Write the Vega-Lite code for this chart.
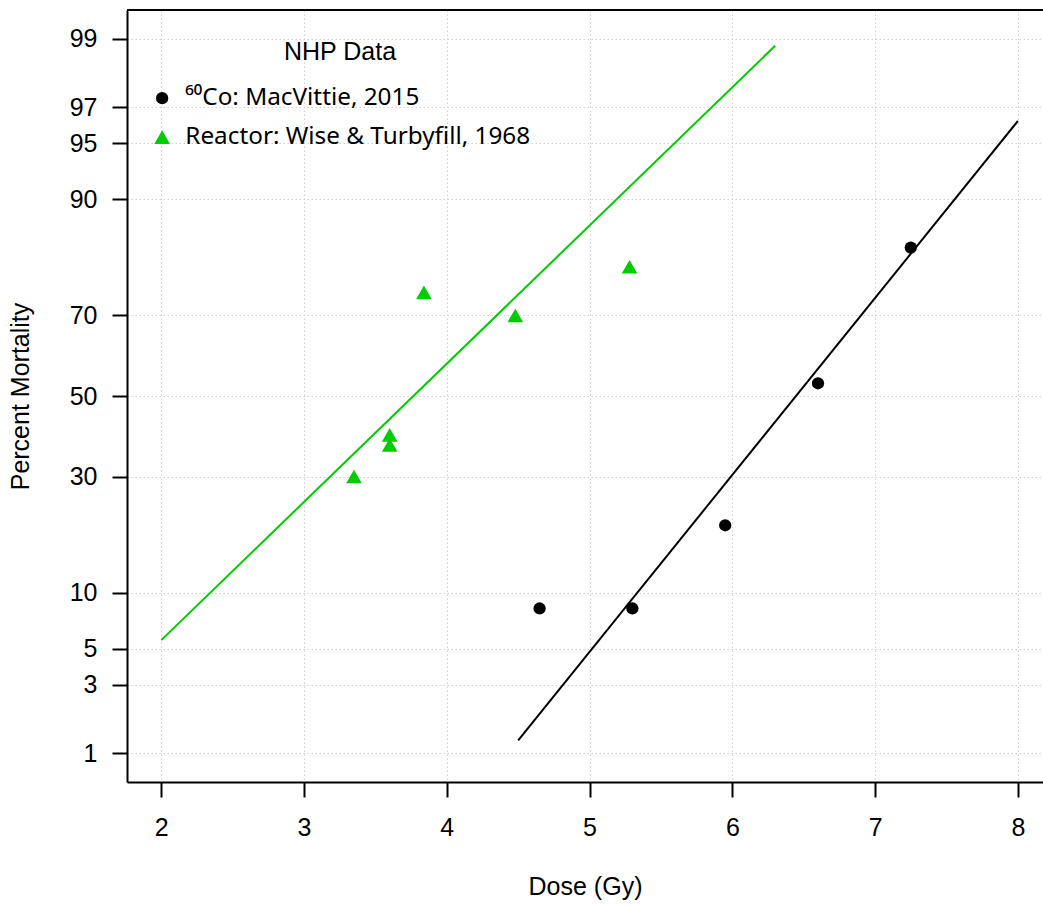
{
  "$schema": "https://vega.github.io/schema/vega-lite/v6.json",
  "width": 916,
  "height": 772,
  "autosize": {"type": "none"},
  "padding": {"left": 127, "top": 10, "right": 0, "bottom": 125},
  "config": {
    "view": {"stroke": null},
    "font": "Liberation Sans",
    "legend": {
      "orient": "none", "legendX": 23, "legendY": 30,
      "titleFont": "Liberation Sans", "titleFontSize": 25, "titleFontWeight": "normal", "titleColor": "black", "titleAnchor": "middle", "titlePadding": 21,
      "labelFont": "Noto Sans", "labelFontSize": 24.3, "labelColor": "black", "labelOffset": 11, "labelLimit": 0, "rowPadding": 14, "symbolStrokeWidth": 0, "padding": 0
    }
  },
  "datasets": {
    "points": [
      {"series": "⁶⁰Co: MacVittie, 2015", "dose": 4.65, "pct": 8.33},
      {"series": "⁶⁰Co: MacVittie, 2015", "dose": 5.3, "pct": 8.33},
      {"series": "⁶⁰Co: MacVittie, 2015", "dose": 5.95, "pct": 20},
      {"series": "⁶⁰Co: MacVittie, 2015", "dose": 6.6, "pct": 53.3},
      {"series": "⁶⁰Co: MacVittie, 2015", "dose": 7.25, "pct": 83.3},
      {"series": "Reactor: Wise & Turbyfill, 1968", "dose": 3.35, "pct": 30},
      {"series": "Reactor: Wise & Turbyfill, 1968", "dose": 3.6, "pct": 40},
      {"series": "Reactor: Wise & Turbyfill, 1968", "dose": 3.6, "pct": 37.5},
      {"series": "Reactor: Wise & Turbyfill, 1968", "dose": 3.84, "pct": 75},
      {"series": "Reactor: Wise & Turbyfill, 1968", "dose": 4.48, "pct": 70},
      {"series": "Reactor: Wise & Turbyfill, 1968", "dose": 5.28, "pct": 80}
    ],
    "fits": [
      {"series": "⁶⁰Co: MacVittie, 2015", "dose": 4.5, "pct": 1.25},
      {"series": "⁶⁰Co: MacVittie, 2015", "dose": 8.0, "pct": 96.33},
      {"series": "Reactor: Wise & Turbyfill, 1968", "dose": 2.0, "pct": 5.6},
      {"series": "Reactor: Wise & Turbyfill, 1968", "dose": 6.3, "pct": 98.87}
    ]
  },
  "layer": [
    {
      "data": {"values": [{}]},
      "mark": {"type": "rule", "color": "black", "strokeWidth": 2},
      "encoding": {
        "y": {"datum": 2.513, "type": "quantitative", "title": "Percent Mortality"}
      }
    },
    {
      "data": {"name": "fits"},
      "transform": [{"calculate": "quantileNormal(datum.pct / 100)", "as": "probit"}],
      "mark": {"type": "line", "strokeWidth": 2},
      "encoding": {
        "x": {"field": "dose", "type": "quantitative", "title": "Dose (Gy)"},
        "y": {"field": "probit", "type": "quantitative", "title": "Percent Mortality"},
        "stroke": {
          "field": "series", "type": "nominal", "title": "NHP Data",
          "scale": {"domain": ["⁶⁰Co: MacVittie, 2015", "Reactor: Wise & Turbyfill, 1968"], "range": ["black", "#00CD00"]}
        }
      }
    },
    {
      "data": {"name": "points"},
      "transform": [{"calculate": "quantileNormal(datum.pct / 100)", "as": "probit"}],
      "mark": {"type": "point", "filled": true, "opacity": 1},
      "encoding": {
        "x": {
          "field": "dose", "type": "quantitative", "title": "Dose (Gy)",
          "scale": {"domain": [1.76, 8.176], "nice": false, "zero": false},
          "axis": {
            "values": [2, 3, 4, 5, 6, 7, 8], "format": "d", "grid": true,
            "domainColor": "black", "domainWidth": 2, "tickColor": "black", "tickWidth": 2, "tickSize": 15,
            "labelFont": "Liberation Sans", "labelFontSize": 25, "labelColor": "black", "labelPadding": 18, "labelFlush": false,
            "titleFont": "Liberation Sans", "titleFontSize": 25, "titleFontWeight": "normal", "titleColor": "black", "titlePadding": 34,
            "gridColor": "#cfcfcf", "gridDash": [1.5, 2.5], "gridWidth": 1
          }
        },
        "y": {
          "field": "probit", "type": "quantitative", "title": "Percent Mortality",
          "scale": {"domain": [-2.513, 2.513], "nice": false, "zero": false},
          "axis": {
            "values": [-2.3263479, -1.8807936, -1.6448536, -1.2815516, -0.5244005, 0, 0.5244005, 1.2815516, 1.6448536, 1.8807936, 2.3263479],
            "labelExpr": "format(round(cumulativeNormal(datum.value) * 100), 'd')",
            "grid": true, "labelAngle": 0, "labelFlush": false, "labelOverlap": false,
            "domainColor": "black", "domainWidth": 2, "tickColor": "black", "tickWidth": 2, "tickSize": 15,
            "labelFont": "Liberation Sans", "labelFontSize": 25, "labelColor": "black", "labelPadding": 15,
            "titleFont": "Liberation Sans", "titleFontSize": 25, "titleFontWeight": "normal", "titleColor": "black", "titlePadding": 36,
            "gridColor": "#cfcfcf", "gridDash": [1.5, 2.5], "gridWidth": 1
          }
        },
        "color": {
          "field": "series", "type": "nominal", "title": "NHP Data",
          "scale": {"domain": ["⁶⁰Co: MacVittie, 2015", "Reactor: Wise & Turbyfill, 1968"], "range": ["black", "#00CD00"]}
        },
        "shape": {
          "field": "series", "type": "nominal", "title": "NHP Data",
          "scale": {"domain": ["⁶⁰Co: MacVittie, 2015", "Reactor: Wise & Turbyfill, 1968"], "range": ["circle", "triangle-up"]}
        },
        "size": {
          "field": "series", "type": "nominal", "title": "NHP Data",
          "scale": {"domain": ["⁶⁰Co: MacVittie, 2015", "Reactor: Wise & Turbyfill, 1968"], "range": [150, 246]}
        }
      }
    }
  ]
}
